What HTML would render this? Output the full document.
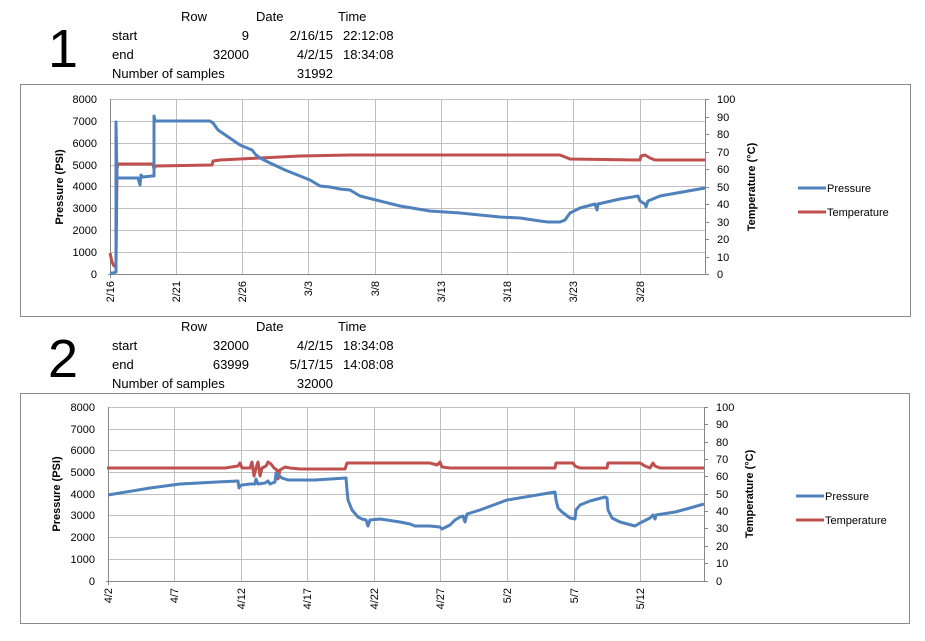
<!DOCTYPE html>
<html><head><meta charset="utf-8"><style>
html,body{margin:0;padding:0;background:#fff;}
svg{display:block;font-family:"Liberation Sans",sans-serif;}
</style></head><body>
<svg width="925" height="641" viewBox="0 0 925 641" xmlns="http://www.w3.org/2000/svg">
<!-- Header 1 -->
<g font-size="13" fill="#000">
<text x="48" y="67" font-size="54">1</text>
<text x="181" y="21">Row</text><text x="256" y="21">Date</text><text x="338" y="21">Time</text>
<text x="112" y="40">start</text><text x="249" y="40" text-anchor="end">9</text><text x="333" y="40" text-anchor="end">2/16/15</text><text x="343" y="40">22:12:08</text>
<text x="112" y="59">end</text><text x="249" y="59" text-anchor="end">32000</text><text x="333" y="59" text-anchor="end">4/2/15</text><text x="343" y="59">18:34:08</text>
<text x="112" y="78">Number of samples</text><text x="333" y="78" text-anchor="end">31992</text>
</g>
<!-- Header 2 -->
<g font-size="13" fill="#000">
<text x="48" y="377" font-size="54">2</text>
<text x="181" y="331">Row</text><text x="256" y="331">Date</text><text x="338" y="331">Time</text>
<text x="112" y="350">start</text><text x="249" y="350" text-anchor="end">32000</text><text x="333" y="350" text-anchor="end">4/2/15</text><text x="343" y="350">18:34:08</text>
<text x="112" y="369">end</text><text x="249" y="369" text-anchor="end">63999</text><text x="333" y="369" text-anchor="end">5/17/15</text><text x="343" y="369">14:08:08</text>
<text x="112" y="388">Number of samples</text><text x="333" y="388" text-anchor="end">32000</text>
</g>

<!-- Chart 1 -->
<rect x="20.5" y="84.5" width="890" height="232" fill="#fff" stroke="#8a8a8a"/>
<g stroke="#c0c0c0" stroke-width="1">
<line x1="110" x2="705" y1="99.5" y2="99.5"/><line x1="110" x2="705" y1="121.5" y2="121.5"/><line x1="110" x2="705" y1="143.5" y2="143.5"/><line x1="110" x2="705" y1="165.5" y2="165.5"/><line x1="110" x2="705" y1="186.5" y2="186.5"/><line x1="110" x2="705" y1="208.5" y2="208.5"/><line x1="110" x2="705" y1="230.5" y2="230.5"/><line x1="110" x2="705" y1="252.5" y2="252.5"/>
<line y1="99" y2="274" x1="176.5" x2="176.5"/><line y1="99" y2="274" x1="242.5" x2="242.5"/><line y1="99" y2="274" x1="308.5" x2="308.5"/><line y1="99" y2="274" x1="375.5" x2="375.5"/><line y1="99" y2="274" x1="441.5" x2="441.5"/><line y1="99" y2="274" x1="507.5" x2="507.5"/><line y1="99" y2="274" x1="573.5" x2="573.5"/><line y1="99" y2="274" x1="640.5" x2="640.5"/>
</g>
<g stroke="#888"><line x1="110.5" x2="110.5" y1="99" y2="278"/><line x1="108" x2="705" y1="274.5" y2="274.5"/><line x1="705.5" x2="705.5" y1="99" y2="274"/>
<line x1="705" x2="709" y1="99.5" y2="99.5"/><line x1="705" x2="709" y1="117.5" y2="117.5"/><line x1="705" x2="709" y1="134.5" y2="134.5"/><line x1="705" x2="709" y1="152.5" y2="152.5"/><line x1="705" x2="709" y1="169.5" y2="169.5"/><line x1="705" x2="709" y1="187.5" y2="187.5"/><line x1="705" x2="709" y1="204.5" y2="204.5"/><line x1="705" x2="709" y1="222.5" y2="222.5"/><line x1="705" x2="709" y1="239.5" y2="239.5"/><line x1="705" x2="709" y1="257.5" y2="257.5"/><line x1="705" x2="709" y1="274.5" y2="274.5"/>
</g>
<g font-size="11" fill="#000" text-anchor="end">
<text x="97" y="103">8000</text><text x="97" y="125">7000</text><text x="97" y="147">6000</text><text x="97" y="169">5000</text><text x="97" y="190">4000</text><text x="97" y="212">3000</text><text x="97" y="234">2000</text><text x="97" y="256">1000</text><text x="97" y="278">0</text>
</g>
<g font-size="11" fill="#000">
<text x="717" y="103">100</text><text x="717" y="121">90</text><text x="717" y="138">80</text><text x="717" y="156">70</text><text x="717" y="173">60</text><text x="717" y="191">50</text><text x="717" y="208">40</text><text x="717" y="226">30</text><text x="717" y="243">20</text><text x="717" y="261">10</text><text x="717" y="278">0</text>
</g>
<g font-size="11" fill="#000" text-anchor="end">
<text transform="translate(114,281) rotate(-90)">2/16</text><text transform="translate(180,281) rotate(-90)">2/21</text><text transform="translate(246,281) rotate(-90)">2/26</text><text transform="translate(312,281) rotate(-90)">3/3</text><text transform="translate(379,281) rotate(-90)">3/8</text><text transform="translate(445,281) rotate(-90)">3/13</text><text transform="translate(511,281) rotate(-90)">3/18</text><text transform="translate(577,281) rotate(-90)">3/23</text><text transform="translate(644,281) rotate(-90)">3/28</text>
</g>
<text transform="translate(63,187) rotate(-90)" font-size="11" font-weight="bold" text-anchor="middle">Pressure (PSI)</text>
<text transform="translate(755,187) rotate(-90)" font-size="11" font-weight="bold" text-anchor="middle">Temperature (°C)</text>
<polyline fill="none" stroke="#c0504d" stroke-width="3" stroke-linejoin="round" points="110,253 112,262 114,266 116,266 117,168 118,164 153,164 154,169 155,166 212,165 213,161 220,160 260,158 300,156 350,155 400,155 450,155 560,155 565,157 570,159 640,160 641,156 645,155 650,158 655,160 705,160"/>
<polyline fill="none" stroke="#4f81bd" stroke-width="3" stroke-linejoin="round" points="110,273 113,273 116,272 116,122 117,178 138,178 140,185 141,175 143,177 152,176 154,176 154,116 155,121 210,121 213,123 218,130 240,145 252,150 256,155 260,158 270,163 285,170 300,176 310,180 320,186 330,187 340,189 350,190 360,196 380,201 400,206 430,211 460,213 480,215 500,217 520,218 540,221 548,222 560,222 565,220 570,213 580,208 595,204 597,210 598,204 620,199 638,196 640,201 645,204 646,207 648,201 660,196 705,188"/>
<line x1="798" x2="826" y1="188" y2="188" stroke="#4f81bd" stroke-width="3"/>
<line x1="798" x2="826" y1="212" y2="212" stroke="#c0504d" stroke-width="3"/>
<text x="827" y="192" font-size="11">Pressure</text>
<text x="827" y="216" font-size="11">Temperature</text>

<!-- Chart 2 -->
<rect x="20.5" y="393.5" width="889" height="230" fill="#fff" stroke="#8a8a8a"/>
<g stroke="#c0c0c0" stroke-width="1">
<line x1="108" x2="704" y1="407.5" y2="407.5"/><line x1="108" x2="704" y1="429.5" y2="429.5"/><line x1="108" x2="704" y1="450.5" y2="450.5"/><line x1="108" x2="704" y1="472.5" y2="472.5"/><line x1="108" x2="704" y1="494.5" y2="494.5"/><line x1="108" x2="704" y1="515.5" y2="515.5"/><line x1="108" x2="704" y1="537.5" y2="537.5"/><line x1="108" x2="704" y1="559.5" y2="559.5"/>
<line y1="407" y2="581" x1="174.5" x2="174.5"/><line y1="407" y2="581" x1="241.5" x2="241.5"/><line y1="407" y2="581" x1="307.5" x2="307.5"/><line y1="407" y2="581" x1="374.5" x2="374.5"/><line y1="407" y2="581" x1="440.5" x2="440.5"/><line y1="407" y2="581" x1="507.5" x2="507.5"/><line y1="407" y2="581" x1="574.5" x2="574.5"/><line y1="407" y2="581" x1="640.5" x2="640.5"/>
</g>
<g stroke="#888"><line x1="108.5" x2="108.5" y1="407" y2="585"/><line x1="106" x2="704" y1="581.5" y2="581.5"/><line x1="704.5" x2="704.5" y1="407" y2="581"/>
<line x1="704" x2="708" y1="407.5" y2="407.5"/><line x1="704" x2="708" y1="424.5" y2="424.5"/><line x1="704" x2="708" y1="442.5" y2="442.5"/><line x1="704" x2="708" y1="459.5" y2="459.5"/><line x1="704" x2="708" y1="476.5" y2="476.5"/><line x1="704" x2="708" y1="494.5" y2="494.5"/><line x1="704" x2="708" y1="511.5" y2="511.5"/><line x1="704" x2="708" y1="528.5" y2="528.5"/><line x1="704" x2="708" y1="546.5" y2="546.5"/><line x1="704" x2="708" y1="563.5" y2="563.5"/><line x1="704" x2="708" y1="581.5" y2="581.5"/>
</g>
<g font-size="11" fill="#000" text-anchor="end">
<text x="95" y="411">8000</text><text x="95" y="433">7000</text><text x="95" y="454">6000</text><text x="95" y="476">5000</text><text x="95" y="498">4000</text><text x="95" y="519">3000</text><text x="95" y="541">2000</text><text x="95" y="563">1000</text><text x="95" y="585">0</text>
</g>
<g font-size="11" fill="#000">
<text x="716" y="411">100</text><text x="716" y="428">90</text><text x="716" y="446">80</text><text x="716" y="463">70</text><text x="716" y="480">60</text><text x="716" y="498">50</text><text x="716" y="515">40</text><text x="716" y="532">30</text><text x="716" y="550">20</text><text x="716" y="567">10</text><text x="716" y="585">0</text>
</g>
<g font-size="11" fill="#000" text-anchor="end">
<text transform="translate(112,588) rotate(-90)">4/2</text><text transform="translate(178,588) rotate(-90)">4/7</text><text transform="translate(245,588) rotate(-90)">4/12</text><text transform="translate(311,588) rotate(-90)">4/17</text><text transform="translate(378,588) rotate(-90)">4/22</text><text transform="translate(444,588) rotate(-90)">4/27</text><text transform="translate(511,588) rotate(-90)">5/2</text><text transform="translate(578,588) rotate(-90)">5/7</text><text transform="translate(644,588) rotate(-90)">5/12</text>
</g>
<text transform="translate(60,494) rotate(-90)" font-size="11" font-weight="bold" text-anchor="middle">Pressure (PSI)</text>
<text transform="translate(753,494) rotate(-90)" font-size="11" font-weight="bold" text-anchor="middle">Temperature (°C)</text>
<polyline fill="none" stroke="#c0504d" stroke-width="3" stroke-linejoin="round" points="107,468 225,468 238,466 240,463 242,468 250,468 252,462 254,476 256,468 258,462 260,476 262,468 266,466 268,462 271,464 274,468 277,470 278,479 280,470 285,467 290,468 300,469 345,469 347,463 400,463 430,463 437,465 440,462 442,467 450,468 555,468 556,463 573,463 575,466 580,468 607,468 608,463 640,463 645,466 650,468 653,463 655,466 660,468 704,468"/>
<polyline fill="none" stroke="#4f81bd" stroke-width="3" stroke-linejoin="round" points="108,495 150,488 180,484 217,482 238,481 239,488 240,486 242,485 250,484 255,484 256,479 258,484 265,483 268,481 270,484 275,482 276,473 282,478 288,480 315,480 346,478 347,490 348,500 352,510 358,517 362,519 366,520 368,526 370,520 380,519 400,522 410,524 415,526 430,526 440,527 442,529 450,525 455,520 460,517 463,516 465,522 467,514 480,510 507,500 555,492 556,500 558,508 562,512 570,518 575,519 576,510 580,505 590,501 605,497 607,498 608,510 612,518 620,522 635,526 640,523 650,518 653,515 655,519 656,515 675,512 690,508 704,504"/>
<line x1="796" x2="824" y1="496" y2="496" stroke="#4f81bd" stroke-width="3"/>
<line x1="796" x2="824" y1="520" y2="520" stroke="#c0504d" stroke-width="3"/>
<text x="825" y="500" font-size="11">Pressure</text>
<text x="825" y="524" font-size="11">Temperature</text>
</svg>
</body></html>
